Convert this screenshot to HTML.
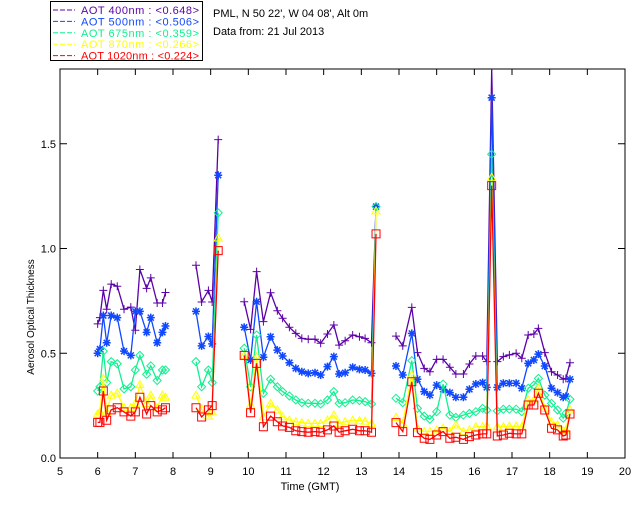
<!DOCTYPE html>
<html><head><meta charset="utf-8"><style>
body{margin:0;background:#fff;}
svg{display:block;font-family:"Liberation Sans",sans-serif;}
</style></head><body>
<svg id="chart" width="640" height="512" viewBox="0 0 640 512">
<rect x="0" y="0" width="640" height="512" fill="#fff"/>
<g id="legend">
<rect x="50.5" y="1.5" width="152" height="59" fill="none" stroke="#000" stroke-width="1"/>
</g>
<text x="213" y="17" font-size="11" fill="#000">PML, N 50 22', W 04 08', Alt 0m</text>
<text x="213" y="35" font-size="11" fill="#000">Data from: 21 Jul 2013</text>
<g id="axes"></g>
<g id="series"></g>
<text x="310" y="490" font-size="11" text-anchor="middle">Time (GMT)</text>
<text transform="translate(34,317) rotate(-90)" font-size="10" text-anchor="middle">Aerosol Optical Thickness</text>
</svg>
<script>
// data (null = gap)
const times = [6.0,6.06,6.15,6.24,6.36,6.52,6.70,6.88,7.0,7.12,7.30,7.41,7.58,7.72,7.80,null,
8.61,8.76,8.94,9.04,9.20,null,
9.89,10.06,10.22,10.40,10.59,10.77,10.91,11.09,11.26,11.42,11.59,11.77,11.92,12.10,12.27,12.41,12.57,12.77,12.95,13.10,13.27,13.39,null,
13.92,14.10,14.34,14.49,14.67,14.82,15.0,15.17,15.35,15.51,15.71,15.87,16.04,16.22,16.33,16.46,16.61,16.77,16.93,17.11,17.26,17.43,17.58,17.70,17.87,18.05,18.21,18.36,18.43,18.54];
const aot400 = [0.64,0.67,0.80,0.71,0.83,0.82,0.71,0.72,0.61,0.90,0.81,0.86,0.74,0.74,0.79,null,
0.92,0.745,0.80,0.745,1.52,null,
0.746,0.614,0.89,0.651,0.789,0.703,0.667,0.624,0.595,0.571,0.567,0.567,0.548,0.592,0.635,0.539,0.56,0.587,0.579,0.571,0.55,1.20,null,
0.582,0.535,0.719,0.503,0.428,0.412,0.471,0.471,0.433,0.401,0.401,0.449,0.487,0.487,0.46,1.86,0.46,0.484,0.492,0.50,0.476,0.587,0.592,0.619,0.503,0.412,0.396,0.376,0.38,0.455];
const aot500 = [0.50,0.52,0.68,0.55,0.68,0.67,0.51,0.49,0.70,0.70,0.60,0.67,0.55,0.60,0.63,null,
0.70,0.535,0.58,0.545,1.35,null,
0.624,0.468,0.746,0.481,0.579,0.515,0.487,0.455,0.428,0.412,0.404,0.407,0.396,0.436,0.484,0.401,0.407,0.433,0.423,0.42,0.404,1.20,null,
0.439,0.396,0.595,0.376,0.317,0.30,0.348,0.328,0.312,0.29,0.29,0.328,0.353,0.36,0.337,1.72,0.337,0.357,0.357,0.357,0.333,0.452,0.468,0.496,0.439,0.333,0.312,0.29,0.294,0.376];
const aot675 = [0.32,0.34,0.51,0.36,0.46,0.45,0.33,0.34,0.42,0.49,0.40,0.44,0.37,0.42,0.42,null,
0.46,0.34,0.42,0.36,1.17,null,
0.524,0.34,0.587,0.309,0.376,0.34,0.317,0.296,0.277,0.264,0.261,0.261,0.258,0.277,0.317,0.261,0.264,0.277,0.274,0.269,0.258,1.20,null,
0.285,0.264,0.465,0.237,0.20,0.185,0.221,0.353,0.205,0.194,0.205,0.213,0.221,0.237,0.229,1.45,0.225,0.233,0.233,0.233,0.221,0.333,0.348,0.38,0.30,0.261,0.229,0.19,0.213,0.28];
const aot870 = [0.21,0.22,0.38,0.22,0.30,0.31,0.24,0.24,0.26,0.35,0.26,0.30,0.24,0.30,0.29,null,
0.30,0.235,0.20,0.22,1.05,null,
0.49,0.253,0.483,0.197,0.261,0.229,0.197,0.181,0.173,0.169,0.165,0.165,0.165,0.181,0.205,0.165,0.173,0.181,0.178,0.176,0.165,1.18,null,
0.194,0.166,0.396,0.142,0.126,0.126,0.134,0.142,0.126,0.158,0.126,0.134,0.149,0.149,0.152,1.34,0.149,0.149,0.152,0.152,0.149,0.277,0.277,0.333,0.237,0.173,0.158,0.13,0.134,0.229];
const aot1020 = [0.17,0.17,0.32,0.18,0.23,0.24,0.22,0.20,0.22,0.29,0.21,0.25,0.22,0.23,0.24,null,
0.24,0.196,0.23,0.25,0.99,null,
0.49,0.216,0.452,0.149,0.20,0.173,0.153,0.146,0.13,0.126,0.123,0.126,0.123,0.134,0.153,0.123,0.13,0.137,0.13,0.13,0.123,1.07,null,
0.169,0.126,0.364,0.121,0.094,0.089,0.11,0.126,0.094,0.099,0.089,0.102,0.11,0.115,0.115,1.30,0.105,0.11,0.118,0.115,0.115,0.253,0.253,0.309,0.229,0.142,0.134,0.105,0.11,0.21];
const seriesNames = ["AOT  400nm : <0.648>","AOT  500nm : <0.506>","AOT  675nm : <0.359>","AOT  870nm : <0.266>","AOT 1020nm : <0.224>"];
const xTicks = [5,6,7,8,9,10,11,12,13,14,15,16,17,18,19,20];
const yTicks = [0.0,0.5,1.0,1.5];
const yTickLabels = ["0.0","0.5","1.0","1.5"];

const NS="http://www.w3.org/2000/svg";
const L=60,R=625,T=69,B=458;
const xS=t=>L+(t-5)*(R-L)/15;
const yS=v=>B-v*(B-T)/1.857;
function mk(tag,attrs,parent){const e=document.createElementNS(NS,tag);for(const k in attrs)e.setAttribute(k,attrs[k]);parent.appendChild(e);return e;}
const axes=document.getElementById('axes');
const frame=mk('rect',{x:L,y:T,width:R-L,height:B-T,fill:'none',stroke:'#000','stroke-width':1},axes);


xTicks.forEach(t=>{
  const x=xS(t);
  const tk=mk('path',{d:`M${x},${B}v-6M${x},${T}v6`,stroke:'#000','stroke-width':1},axes);
  
  
  const lb=mk('text',{x:x,y:B+17,'font-size':11,'text-anchor':'middle'},axes);lb.textContent=t;
  
  
});
yTicks.forEach((v,i)=>{
  const y=yS(v);
  const tk=mk('path',{d:`M${L},${y}h7M${R},${y}h-7`,stroke:'#000','stroke-width':1},axes);
  
  
  const lb=mk('text',{x:L-4,y:y+4,'font-size':11,'text-anchor':'end'},axes);lb.textContent=yTickLabels[i];
  
  
});
const colors=['#5c00a8','#1048ff','#10f090','#ffff00','#ff0000'];
const data=[aot400,aot500,aot675,aot870,aot1020];
function marker(kind,x,y,c,g){
  let d;
  if(kind===0)d=`M${x-4},${y}h8M${x},${y-4}v8`;
  else if(kind===1)d=`M${x-4},${y}h8M${x},${y-4}v8M${x-3},${y-3}l6,6M${x-3},${y+3}l6,-6`;
  else if(kind===2)d=`M${x},${y-4}l4,4l-4,4l-4,-4z`;
  else if(kind===3)d=`M${x},${y-4}l4,7h-8z`;
  else d=`M${x-4},${y-4}h8v8h-8z`;
  const m=mk('path',{d:d,stroke:c,'stroke-width':kind===1?1.5:1,fill:'none'},g);
  
  
}
const sg=document.getElementById('series');
data.forEach((vals,si)=>{
  const g=mk('g',{},sg);
  
  
  let d='',pen=false;
  times.forEach((t,i)=>{
    const v=vals[i];
    if(t===null||v===null){pen=false;return;}
    d+=(pen?'L':'M')+xS(t).toFixed(1)+','+yS(Math.min(v,1.857)).toFixed(1);pen=true;
  });
  const ln=mk('path',{d:d,stroke:colors[si],'stroke-width':1.3,fill:'none'},g);
  
  
  times.forEach((t,i)=>{const v=vals[i];if(t===null||v===null||v>1.85)return;marker(si,xS(t),yS(v),colors[si],g);});
  const lg=document.getElementById('legend');
  const ly=14+si*11.4;
  const dl=mk('path',{d:`M53,${ly-4}h22`,stroke:colors[si],'stroke-width':1,'stroke-dasharray':'5,2'},lg);
  
  
  const lt=mk('text',{x:81,y:ly,'font-size':11,fill:colors[si],'xml:space':'preserve',textLength:118,lengthAdjust:'spacing'},lg);
  lt.textContent=seriesNames[si];
  
  
});
</script>
</body></html>
